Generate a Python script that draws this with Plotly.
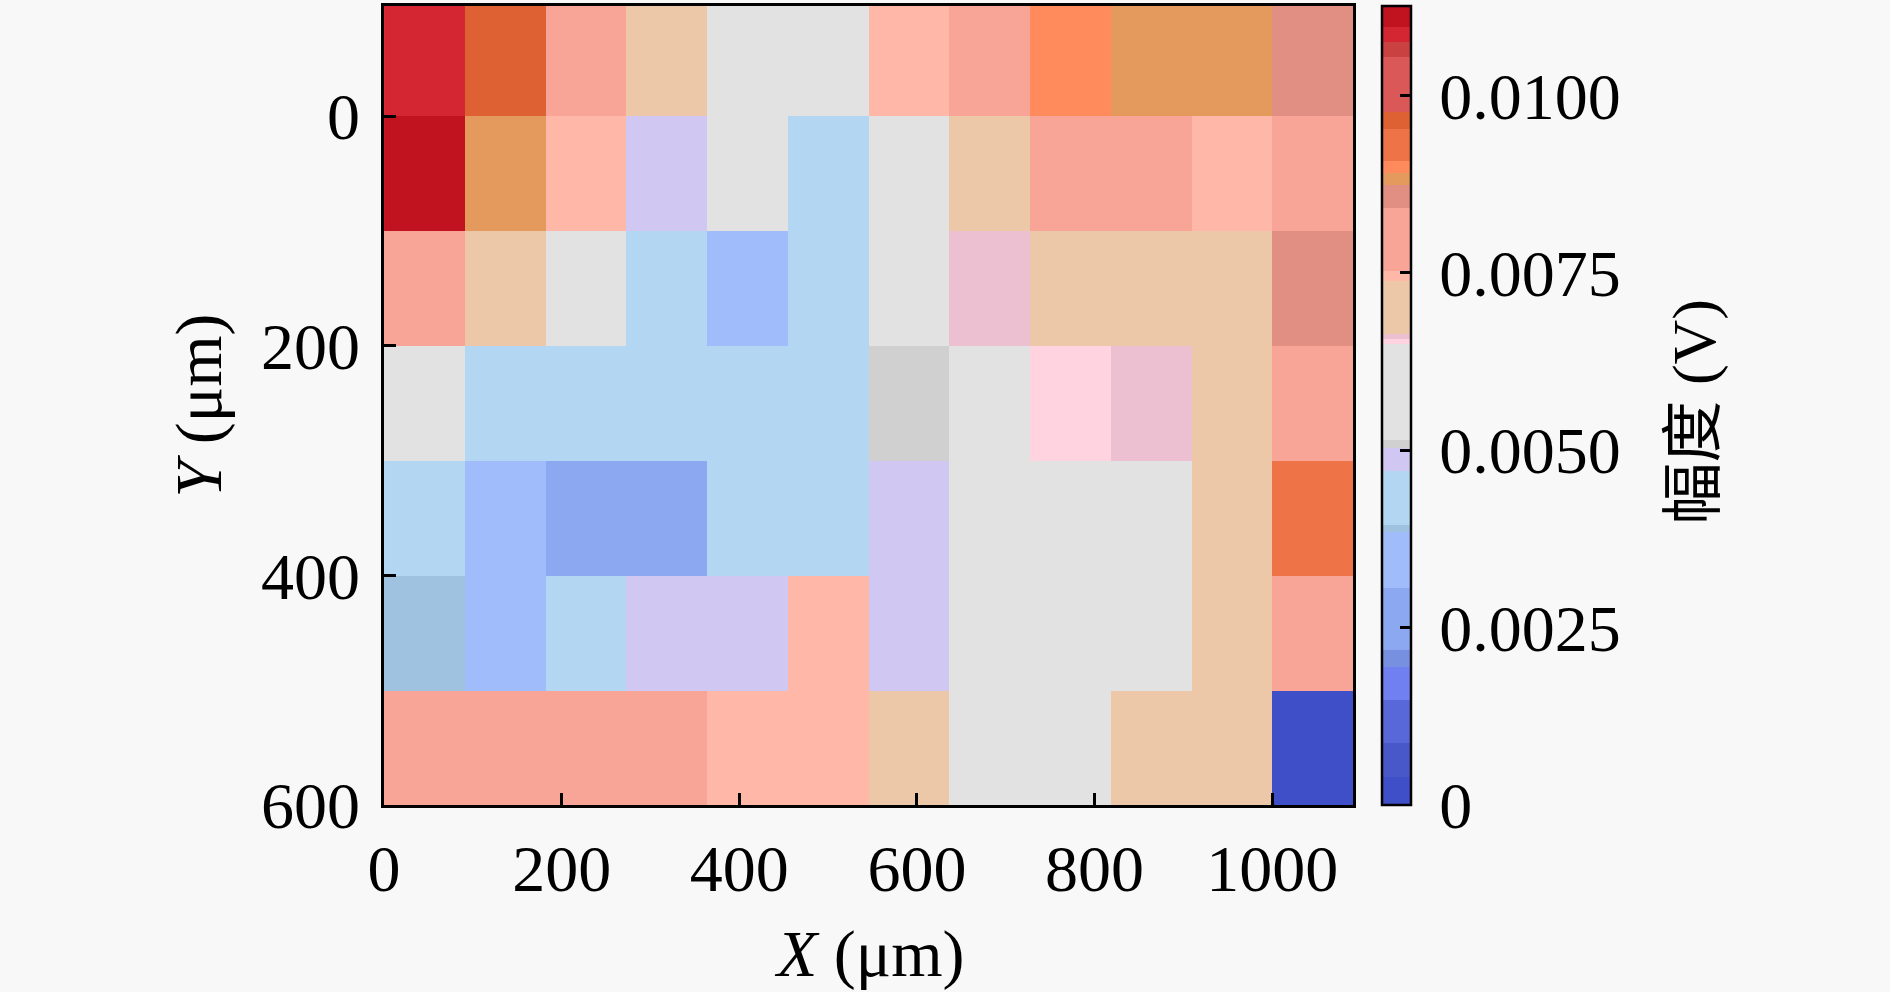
import plotly.graph_objects as go

# positions des mesures (centres des cases, en um)
x_um = [45.5, 136.4, 227.3, 318.2, 409.1, 500.0, 590.9, 681.8, 772.7, 863.6, 954.5, 1045.5]
y_um = [-50, 50, 150, 250, 350, 450, 550]

# amplitude (V), une ligne par y
amp_row0 = [0.0109, 0.0096, 0.0080, 0.0070, 0.0058, 0.0058, 0.00745, 0.0080, 0.0090, 0.0088, 0.0088, 0.0086]
amp_row1 = [0.0111, 0.0088, 0.00745, 0.0049, 0.0058, 0.0043, 0.0058, 0.0070, 0.0080, 0.0080, 0.00745, 0.0080]
amp_row2 = [0.0080, 0.0070, 0.0058, 0.0043, 0.0035, 0.0043, 0.0058, 0.0066, 0.0070, 0.0070, 0.0070, 0.0086]
amp_row3 = [0.0058, 0.0043, 0.0043, 0.0043, 0.0043, 0.0043, 0.0051, 0.0058, 0.00653, 0.0066, 0.0070, 0.0080]
amp_row4 = [0.0043, 0.0035, 0.0026, 0.0026, 0.0043, 0.0043, 0.0049, 0.0058, 0.0058, 0.0058, 0.0070, 0.0093]
amp_row5 = [0.0039, 0.0035, 0.0043, 0.0049, 0.0049, 0.00745, 0.0049, 0.0058, 0.0058, 0.0058, 0.0070, 0.0080]
amp_row6 = [0.0080, 0.0080, 0.0080, 0.0080, 0.00745, 0.00745, 0.0070, 0.0058, 0.0058, 0.0070, 0.0070, 0.0002]

cb_tickvals = [0, 0.0025, 0.0050, 0.0075, 0.0100]
cb_ticktext = ["0", "0.0025", "0.0050", "0.0075", "0.0100"]
zmax = 0.01126

# palette en paliers (comme la barre de couleur de l'original)
bandes = [
    (0.0, 0.00039, "#3f4fc8"),
    (0.00039, 0.00087, "#4858c8"),
    (0.00087, 0.00148, "#5868d8"),
    (0.00148, 0.00194, "#7080f0"),
    (0.00194, 0.00218, "#7890e0"),
    (0.00218, 0.00306, "#8ca8f0"),
    (0.00306, 0.00385, "#a0bcfa"),
    (0.00385, 0.00395, "#9ec2e0"),
    (0.00395, 0.00471, "#b3d6f2"),
    (0.00471, 0.00503, "#d0c8f2"),
    (0.00503, 0.00515, "#d0d0d0"),
    (0.00515, 0.0065, "#e2e2e2"),
    (0.0065, 0.00657, "#ffd4e0"),
    (0.00657, 0.00664, "#ecc0d0"),
    (0.00664, 0.00738, "#ecc8a8"),
    (0.00738, 0.00752, "#ffb8a8"),
    (0.00752, 0.00841, "#f8a496"),
    (0.00841, 0.00874, "#e28f83"),
    (0.00874, 0.0089, "#e49a5c"),
    (0.0089, 0.00907, "#ff8a5c"),
    (0.00907, 0.00953, "#ee7448"),
    (0.00953, 0.00977, "#dd6133"),
    (0.00977, 0.01054, "#da5858"),
    (0.01054, 0.01075, "#c94141"),
    (0.01075, 0.01096, "#d42533"),
    (0.01096, 0.01126, "#c0121f"),
]
colorscale = []
for lo, hi, c in bandes:
    colorscale.append([lo / zmax, c])
    colorscale.append([min(hi / zmax, 1.0), c])

z = [amp_row0, amp_row1, amp_row2, amp_row3, amp_row4, amp_row5, amp_row6]

police = "Liberation Serif, Noto Sans CJK SC, serif"
taille = 66
noir = "black"

fig = go.Figure(go.Heatmap(
    x=x_um, y=y_um, z=z,
    zmin=0, zmax=zmax,
    colorscale=colorscale,
    colorbar=dict(
        x=1.030, xanchor="left", xpad=0,
        y=0.5, yanchor="middle", ypad=0,
        len=1, lenmode="fraction",
        thickness=29,
        outlinewidth=2.5, outlinecolor=noir,
        ticks="inside", ticklen=12, tickwidth=2.5, tickcolor=noir,
        tickvals=cb_tickvals,
        ticktext=["\u2009" + t for t in cb_ticktext],
        tickfont=dict(family=police, size=taille, color=noir),
    ),
))

axe = dict(
    showline=True, linecolor=noir, linewidth=2.5, mirror=True,
    ticks="inside", ticklen=12, tickwidth=2.5, tickcolor=noir,
    showgrid=False, zeroline=False,
    tickfont=dict(family=police, size=taille, color=noir),
)

fig.update_layout(
    width=1890, height=992, autosize=False,
    paper_bgcolor="#f8f8f8", plot_bgcolor="#f8f8f8",
    margin=dict(l=384, r=537, t=3, b=187),
    xaxis=dict(axe, range=[0, 1091], tickvals=[0, 200, 400, 600, 800, 1000], ticklabelstandoff=4),
    yaxis=dict(axe, range=[600, -96], tickvals=[0, 200, 400, 600], ticklabelstandoff=8),
    annotations=[
        dict(text="<i>X</i> (μm)", showarrow=False, xref="paper", yref="paper",
             x=0.501, y=-0.187, xanchor="center", yanchor="middle",
             font=dict(family=police, size=taille, color=noir)),
        dict(text="<i>Y</i> (μm)", textangle=-90, showarrow=False, xref="paper", yref="paper",
             x=-0.191, y=0.5, xanchor="center", yanchor="middle",
             font=dict(family=police, size=taille, color=noir)),
        dict(text="幅度 (V)", textangle=-90, showarrow=False, xref="paper", yref="paper",
             x=1.352, y=0.4925, xanchor="center", yanchor="middle",
             font=dict(family=police, size=62, color=noir)),
    ],
)

fig.write_html("out.html", config={"displayModeBar": False},
               post_script="document.body.style.margin='0';")
